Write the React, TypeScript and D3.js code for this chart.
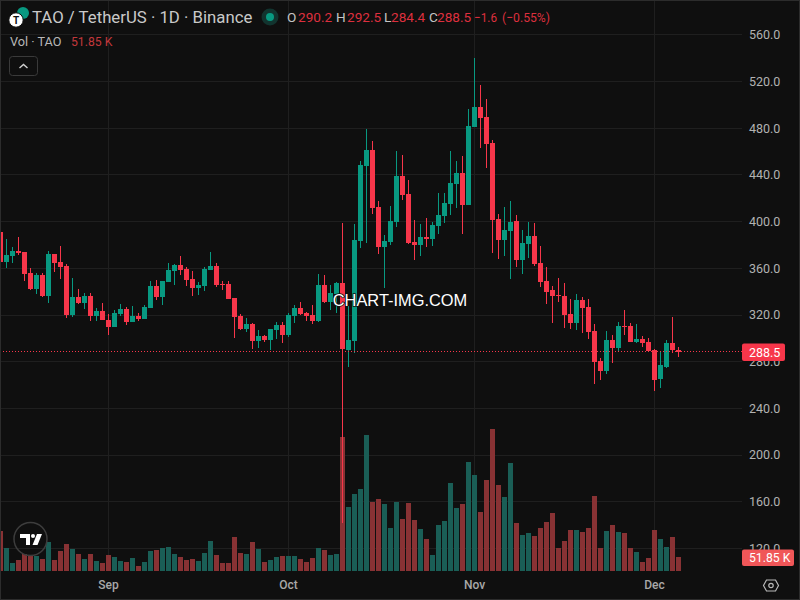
import { scaleLinear, scaleUtc, utcDay, utcMonth, utcFormat } from "d3";

const opens = [391.1, 365.4, 370.5, 374.8, 374.0, 356.0, 342.3, 354.3, 336.3, 372.2, 365.4, 362.0, 320.0, 335.4, 330.3, 336.3, 319.1, 323.4, 315.7, 309.7,
  320.9, 325.1, 314.0, 319.1, 316.6, 326.0, 344.8, 335.4, 348.3, 357.7, 362.8, 359.4, 350.8, 343.1, 344.8, 358.5, 362.0, 346.6, 346.6, 334.6,
  319.1, 308.0, 312.3, 297.7, 302.0, 298.6, 307.1, 311.4, 302.9, 319.1, 326.0, 321.7, 320.0, 314.9, 345.7, 331.1, 338.0, 347.4, 290.0, 297.7,
  383.4, 447.6, 461.3, 412.5, 378.2, 382.5, 399.7, 439.0, 423.6, 382.5, 380.0, 386.8, 385.1, 396.2, 404.8, 415.1, 432.2, 441.6, 414.2, 481.0,
  498.2, 489.6, 467.3, 402.2, 384.2, 392.0, 400.5, 367.1, 380.8, 387.7, 364.5, 349.1, 341.4, 337.1, 336.3, 320.9, 313.1, 332.9, 326.9, 306.3,
  280.6, 272.0, 298.6, 291.7, 310.6, 310.6, 296.9, 299.4, 296.9, 290.0, 265.2, 275.5, 296.0, 290.2];
const highs = [391.1, 385.1, 378.2, 386.8, 374.0, 360.3, 356.0, 356.0, 374.8, 372.2, 379.1, 363.7, 351.7, 342.3, 338.8, 338.8, 326.0, 330.3, 320.9, 324.3,
  329.4, 326.9, 327.7, 321.7, 328.6, 349.1, 350.0, 349.1, 364.5, 363.7, 370.5, 361.1, 357.7, 348.3, 361.1, 374.0, 364.5, 349.1, 349.1, 334.6,
  320.9, 317.4, 313.1, 307.1, 302.9, 308.0, 314.0, 314.0, 321.7, 328.6, 331.1, 322.6, 328.6, 355.1, 354.3, 345.7, 348.3, 398.8, 327.7, 397.9,
  451.9, 479.3, 469.0, 417.6, 388.5, 413.4, 460.5, 457.1, 435.6, 401.4, 397.9, 403.1, 399.7, 424.5, 424.5, 460.5, 451.9, 456.2, 496.4, 540.1,
  517.0, 505.0, 469.9, 406.5, 412.5, 417.6, 405.6, 392.8, 399.7, 398.8, 379.1, 361.1, 344.8, 351.7, 347.4, 333.7, 338.0, 335.4, 333.7, 312.3,
  283.2, 306.3, 302.9, 314.0, 324.3, 313.1, 312.3, 302.0, 300.3, 290.9, 289.2, 298.6, 318.3, 292.5];
const lows = [365.4, 360.3, 364.5, 371.4, 349.1, 341.4, 338.0, 335.4, 330.3, 356.8, 350.8, 317.4, 318.3, 329.4, 325.1, 314.9, 314.9, 315.7, 302.9, 309.7,
  319.1, 311.4, 314.0, 314.9, 316.6, 326.0, 332.9, 328.6, 348.3, 345.7, 354.3, 344.8, 336.3, 337.1, 340.6, 358.5, 344.0, 341.4, 333.7, 300.3,
  307.1, 305.4, 290.9, 291.7, 296.9, 290.0, 299.4, 296.0, 301.2, 313.1, 320.0, 314.9, 312.3, 314.0, 330.3, 324.3, 321.7, 141.9, 275.5, 287.5,
  377.4, 381.7, 406.5, 372.2, 343.1, 380.0, 395.4, 418.5, 380.8, 367.1, 370.5, 378.2, 379.1, 389.4, 398.8, 405.6, 411.7, 389.4, 414.2, 481.0,
  463.0, 445.9, 373.1, 368.0, 370.5, 350.8, 361.1, 355.1, 368.8, 362.0, 344.0, 329.4, 313.1, 331.1, 308.9, 308.0, 307.1, 304.6, 299.4, 260.9,
  264.3, 269.5, 278.9, 288.3, 302.9, 296.9, 296.0, 292.6, 288.3, 254.9, 257.5, 274.6, 287.5, 284.4];
const closes = [365.4, 371.4, 374.8, 373.1, 355.1, 342.3, 354.3, 336.3, 372.2, 364.5, 361.1, 320.0, 335.4, 330.3, 336.3, 319.1, 323.4, 315.7, 309.7, 321.7,
  325.1, 314.0, 319.1, 316.6, 326.9, 344.8, 335.4, 349.1, 358.5, 362.8, 358.5, 350.0, 343.1, 345.7, 359.4, 362.0, 345.7, 345.7, 333.7, 318.3,
  308.0, 312.3, 297.7, 302.0, 298.6, 308.0, 311.4, 302.9, 320.0, 326.0, 320.9, 319.1, 314.9, 345.7, 331.1, 338.8, 347.4, 290.9, 298.6, 384.2,
  448.5, 461.3, 411.7, 378.2, 383.4, 400.5, 439.0, 422.8, 381.7, 380.0, 386.8, 385.1, 397.1, 405.6, 415.9, 433.1, 441.6, 414.2, 481.9, 498.2,
  488.7, 466.5, 401.4, 384.2, 392.8, 399.7, 367.1, 381.7, 387.7, 363.7, 348.3, 339.7, 336.3, 336.3, 320.0, 313.1, 332.9, 326.0, 305.4, 279.8,
  272.0, 298.6, 291.7, 310.6, 309.7, 296.9, 299.4, 296.0, 289.2, 264.3, 277.2, 296.0, 290.0, 288.5];
// thousands of TAO
const volumes = [148, 85, 30, 41, 63, 59, 56, 44, 107, 41, 74, 100, 81, 63, 44, 63, 37, 30, 59, 52,
  37, 33, 48, 19, 33, 74, 78, 85, 89, 63, 52, 41, 44, 37, 67, 111, 59, 30, 30, 126,
  67, 63, 107, 81, 33, 41, 52, 56, 56, 56, 44, 33, 48, 85, 78, 59, 63, 496, 237, 285,
  304, 503, 255, 267, 248, 159, 255, 192, 252, 189, 155, 118, 59, 170, 185, 326, 233, 248, 404, 355,
  218, 337, 526, 318, 274, 400, 178, 133, 141, 130, 159, 181, 215, 85, 111, 152, 152, 144, 159, 278,
  85, 148, 170, 144, 141, 85, 70, 33, 48, 152, 118, 89, 126, 51.85];
const priceTicks = [560, 520, 480, 440, 400, 360, 320, 280, 240, 200, 160, 120];
const startDate = new Date(Date.UTC(2025, 7, 14));
const endDate = new Date(Date.UTC(2025, 11, 5));
const dates = utcDay.range(startDate, utcDay.offset(endDate, 1));

const W = 800;
const H = 600;
const BG = "#0f0f0f";
const GRID = "#1f1f1f";
const UP = "#089981";
const DOWN = "#f7364a";
const UP_VOL = "#1a5e56";
const DOWN_VOL = "#883234";
const FONT = "Roboto, sans-serif";

const x = scaleUtc().domain([startDate, endDate]).range([0.5, 678.5]);
const y = scaleLinear().domain([120, 520]).range([548.5, 81.5]);
const yVol = scaleLinear().domain([0, 500]).range([571, 435.9]);

export default function App() {
  const lastY = Math.floor(y(closes[closes.length - 1])) + 0.5;
  const monthTicks = utcMonth.range(startDate, endDate);

  return (
    <svg
      width={W}
      height={H}
      viewBox={`0 0 ${W} ${H}`}
      style={{ position: "fixed", left: 0, top: 0, display: "block", background: BG }}
      fontFamily={FONT}
    >
      <rect x={0} y={0} width={W} height={H} fill={BG} />

      {/* Grid */}
      {priceTicks.map((t) => (
        <line key={t} x1={0} x2={742} y1={Math.floor(y(t)) + 0.5} y2={Math.floor(y(t)) + 0.5} stroke={GRID} />
      ))}
      {monthTicks.map((d) => (
        <line key={+d} x1={Math.floor(x(d)) + 0.5} x2={Math.floor(x(d)) + 0.5} y1={0} y2={571} stroke={GRID} />
      ))}

      {/* Volume */}
      <g shapeRendering="crispEdges">
        {volumes.map((v, i) => (
          <rect
            key={i}
            x={x(dates[i]) - 2.5}
            y={Math.round(yVol(v))}
            width={5}
            height={571 - Math.round(yVol(v))}
            fill={closes[i] < opens[i] ? DOWN_VOL : UP_VOL}
          />
        ))}
      </g>

      {/* TV logo */}
      <circle cx={30.5} cy={539} r={16.5} fill="none" stroke="#3d3d3d" strokeWidth={1.5} />
      <g transform="translate(20,534)" fill="#fff">
        <path d="M0 0H10V11H6V4H0Z" />
        <circle cx={13} cy={2} r={2} />
        <path d="M17 0H22L17.5 11H12.5Z" />
      </g>

      {/* Candles */}
      <g shapeRendering="crispEdges">
        {opens.map((o, i) => {
          const c = closes[i];
          const top = Math.round(y(Math.max(o, c)));
          const bottom = Math.round(y(Math.min(o, c)));
          const hi = Math.round(y(highs[i]));
          const lo = Math.round(y(lows[i]));
          const color = c < o ? DOWN : UP;
          return (
            <g key={i} fill={color}>
              <rect x={x(dates[i]) - 0.5} y={hi} width={1} height={lo - hi} />
              <rect x={x(dates[i]) - 2.5} y={top} width={5} height={Math.max(1, bottom - top)} />
            </g>
          );
        })}
      </g>

      {/* Last price line */}
      <line x1={0} x2={742} y1={lastY} y2={lastY} stroke={DOWN} strokeDasharray="1 2" />

      {/* Watermark */}
      <text
        x={400}
        y={305.5}
        textAnchor="middle"
        fill="#fff"
        fontFamily="'Liberation Sans', Arial, sans-serif"
        fontSize={16.4}
        stroke="#0f0f0f"
        strokeWidth={1.5}
        paintOrder="stroke"
      >
        CHART-IMG.COM
      </text>

      {/* Price axis */}
      {priceTicks.map((t) => (
        <text key={t} x={749} y={y(t)} dy="0.35em" fill="#b2b2b2" fontSize={12.5}>
          {t.toFixed(1)}
        </text>
      ))}
      <rect x={742} y={343.5} width={43} height={17.5} rx={2} fill={DOWN} />
      <text x={749} y={356.5} fill="#fff" fontSize={12.5}>
        288.5
      </text>
      <rect x={742} y={549.5} width={52} height={16.5} rx={2} fill="#f05658" />
      <text x={749} y={562} fill="#fff" fontSize={12.2}>
        51.85 K
      </text>

      {/* Time axis */}
      {monthTicks.map((d) => (
        <text key={+d} x={x(d)} y={589} textAnchor="middle" fill="#a8a8a8" fontSize={12} fontWeight={500}>
          {utcFormat("%b")(d)}
        </text>
      ))}

      {/* Settings button */}
      <path
        d="M765.5 581 L771 578 L776.5 581 L776.5 590 L771 593 L765.5 590 Z"
        transform="rotate(90 771 585.5)"
        fill="none"
        stroke="#b8b8b8"
        strokeWidth={1.2}
      />
      <circle cx={771} cy={585.5} r={2.2} fill="none" stroke="#b8b8b8" strokeWidth={1.2} />

      {/* Header */}
      <circle cx={23} cy={13} r={6} fill={UP} />
      <circle cx={16} cy={20} r={7.2} fill="#fff" stroke={BG} strokeWidth={1} />
      <text x={16} y={23.5} textAnchor="middle" fontSize={10} fontWeight={700} fill="#111">
        T
      </text>
      <text x={32} y={22.5} fill="#c9c9c9" fontSize={16.75}>
        TAO / TetherUS · 1D · Binance
      </text>
      <circle cx={270} cy={17} r={8.5} fill="#12342f" />
      <circle cx={270} cy={17} r={4} fill={UP} />

      {[
        ["O", 287, "290.2", 298],
        ["H", 336, "292.5", 347],
        ["L", 384, "284.4", 391],
        ["C", 429, "288.5", 437],
      ].map(([k, kx, v, vx]) => (
        <g key={k as string} fontSize={13.6}>
          <text x={kx as number} y={22} fill="#c4c4c4">{k}</text>
          <text x={vx as number} y={22} fill="#dd2f3e">{v}</text>
        </g>
      ))}
      <text x={474} y={22} fill="#dd2f3e" fontSize={13.6} textLength={23} lengthAdjust="spacingAndGlyphs">
        −1.6
      </text>
      <text x={502} y={22} fill="#dd2f3e" fontSize={13.6} textLength={48} lengthAdjust="spacingAndGlyphs">
        (−0.55%)
      </text>

      <text x={10} y={46} fill="#b8b8b8" fontSize={12.7}>
        Vol · TAO
      </text>
      <text x={71} y={46} fill="#c2383c" fontSize={12.2}>
        51.85 K
      </text>

      <rect x={9.5} y={56.5} width={28} height={19} rx={3} fill={BG} stroke="#3a3a3a" />
      <path d="M19.5 68 L23.5 64.5 L27.5 68" fill="none" stroke="#d0d0d0" strokeWidth={1.4} />

      {/* Frame */}
      <rect x={0.5} y={0.5} width={W - 1} height={H - 1} fill="none" stroke="#2c2c2c" />
    </svg>
  );
}
